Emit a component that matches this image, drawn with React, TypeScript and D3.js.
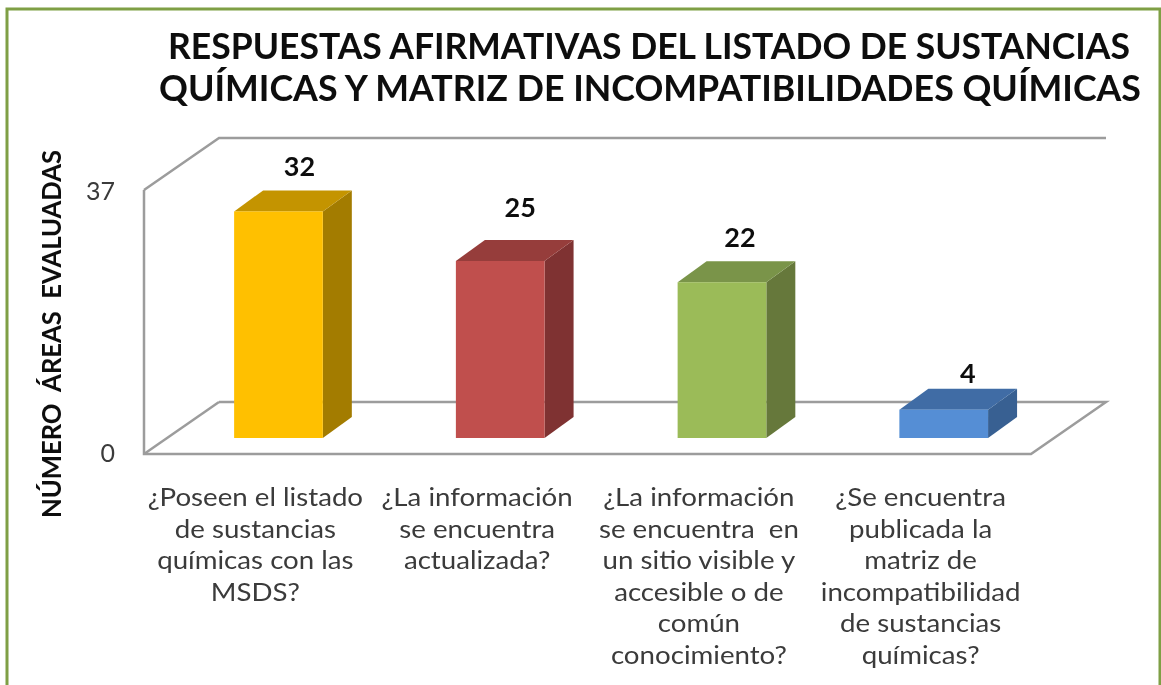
import React from "react";
import * as d3 from "d3";

const titleLines = [
  "RESPUESTAS AFIRMATIVAS DEL LISTADO DE SUSTANCIAS",
  "QUÍMICAS Y MATRIZ DE INCOMPATIBILIDADES QUÍMICAS",
];
const yAxisTitle = "NÚMERO  ÁREAS  EVALUADAS";
const categories = [
  ["¿Poseen el listado", "de sustancias", "químicas con las", "MSDS?"],
  ["¿La información", "se encuentra", "actualizada?"],
  ["¿La información", "se encuentra  en", "un sitio visible y", "accesible o de", "común", "conocimiento?"],
  ["¿Se encuentra", "publicada la", "matriz de", "incompatibilidad", "de sustancias", "químicas?"],
];
const values = [32, 25, 22, 4];
const yTicks = [0, 37];
const frontColors = ["#FFC000", "#C0504D", "#9BBB59", "#558ED5"];
const topColors = ["#C49400", "#963D3A", "#7A9449", "#3F6CA5"];
const sideColors = ["#A37B00", "#7F3130", "#66783A", "#376092"];
const labelNudgeX = [0, -1, -3, 3];
const labelNudgeY = [0, -9, 0, 8];

const FONT = "Lato, 'Open Sans', sans-serif";
const TEXT = "#3a3a3a";

export default function App() {
  const x0 = 144, x1 = 1031, yBase = 454, yTop = 190;
  const floorDx = 75, floorDy = -52;
  const barDx = 29, barDy = -21;
  const barInsetX = 23.6, barInsetY = -16;

  const y = d3.scaleLinear().domain([0, 37]).range([yBase, yTop + 2]);
  const x = d3
    .scaleBand<number>()
    .domain(d3.range(categories.length))
    .range([x0, x1])
    .paddingInner(0.6)
    .paddingOuter(0.3);
  const poly = (pts: [number, number][]) => d3.line()(pts) + "Z";
  const frame = d3.line()([
    [x0, yTop],
    [x0 + floorDx, yTop + floorDy],
    [x1 + floorDx, yTop + floorDy],
  ]);
  const floorBack = d3.line()([
    [x0 + floorDx, yBase + floorDy],
    [x1 + floorDx, yBase + floorDy],
    [x1, yBase],
    [x0, yBase],
    [x0, yTop],
  ]);
  const floorLeft = d3.line()([
    [x0, yBase],
    [x0 + floorDx, yBase + floorDy],
  ]);

  return (
    <svg
      width={1161}
      height={685}
      style={{ position: "absolute", left: 0, top: 0, background: "#fff", fontFamily: FONT }}
    >
      <defs>
        <filter id="soft" x="-5%" y="-5%" width="110%" height="110%">
          <feGaussianBlur stdDeviation="0.5" />
        </filter>
      </defs>
      <g filter="url(#soft)">
        <path d="M7 685V9H1160V685" fill="none" stroke="#7F9F45" strokeWidth={3} />
        <g fill="none" stroke="#9C9C9C" strokeWidth={2.5}>
          <path d={frame!} />
          <path d={floorLeft!} />
          <path d={floorBack!} />
        </g>

        {values.map((v, i) => {
          const left = x(i)! + barInsetX;
          const right = left + x.bandwidth();
          const bottom = yBase + barInsetY;
          const top = bottom - (yBase - y(v));
          return (
            <g key={i}>
              <path d={poly([[right, top], [right + barDx, top + barDy], [right + barDx, bottom + barDy], [right, bottom]])} fill={sideColors[i]} />
              <path d={poly([[left, top], [left + barDx, top + barDy], [right + barDx, top + barDy], [right, top]])} fill={topColors[i]} />
              <rect x={left} y={top} width={x.bandwidth()} height={bottom - top} fill={frontColors[i]} />
              <text
                x={(left + right) / 2 + 21 + labelNudgeX[i]}
                y={top + barDy - 14 + labelNudgeY[i]}
                textAnchor="middle"
                fontSize={27}
                fontWeight={700}
                fill="#111"
              >
                {v}
              </text>
            </g>
          );
        })}

        {titleLines.map((t, i) => (
          <text
            key={t}
            x={i === 0 ? 649 : 650}
            y={i === 0 ? 59 : 101}
            textAnchor="middle"
            fontSize={36}
            fontWeight={700}
            fill="#0a0a0a"
            textLength={i === 0 ? 962 : 982}
            lengthAdjust="spacingAndGlyphs"
          >
            {t}
          </text>
        ))}

        <text
          transform="translate(61,334) rotate(-90)"
          textAnchor="middle"
          fontSize={27}
          fontWeight={700}
          fill="#111"
          textLength={368}
          lengthAdjust="spacingAndGlyphs"
          xmlSpace="preserve"
          style={{ whiteSpace: "pre" }}
        >
          {yAxisTitle}
        </text>

        {yTicks.map((t) => (
          <text key={t} x={115} y={y(t) + 8} textAnchor="end" fontSize={25} fill={TEXT}>
            {t}
          </text>
        ))}

        {categories.map((lines, i) => (
          <g key={i} transform={`translate(${x(i)! + x.bandwidth() / 2 + 0.5},0) scale(1.13,1)`}>
            {lines.map((l, j) => (
              <text
                key={j}
                x={0}
                y={506 + j * 31.6}
                textAnchor="middle"
                fontSize={24.5}
                fill={TEXT}
                style={{ whiteSpace: "pre" }}
              >
                {l}
              </text>
            ))}
          </g>
        ))}
      </g>
    </svg>
  );
}
